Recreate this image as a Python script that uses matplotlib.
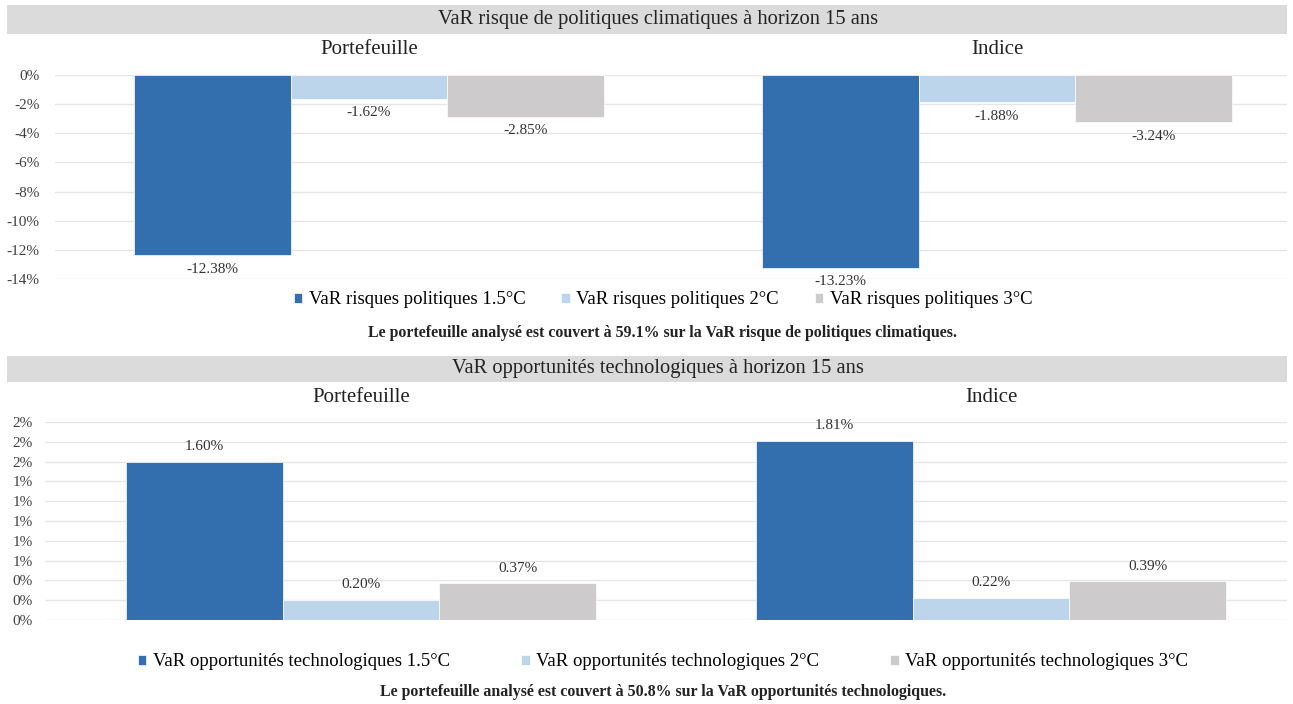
import matplotlib
matplotlib.use("Agg")
import matplotlib.pyplot as plt
from matplotlib.patches import Rectangle
from matplotlib.transforms import blended_transform_factory
import numpy as np

plt.rcParams['font.family'] = ['Liberation Serif', 'DejaVu Serif']

groups = ["Portefeuille", "Indice"]

pol_labels = ["VaR risques politiques 1.5°C", "VaR risques politiques 2°C", "VaR risques politiques 3°C"]
pol_values = [[-12.38, -13.23], [-1.62, -1.88], [-2.85, -3.24]]

tech_labels = ["VaR opportunités technologiques 1.5°C", "VaR opportunités technologiques 2°C",
               "VaR opportunités technologiques 3°C"]
tech_values = [[1.60, 1.81], [0.20, 0.22], [0.37, 0.39]]

title_top = "VaR risque de politiques climatiques à horizon 15 ans"
title_bot = "VaR opportunités technologiques à horizon 15 ans"
note_top = "Le portefeuille analysé est couvert à 59.1% sur la VaR risque de politiques climatiques."
note_bot = "Le portefeuille analysé est couvert à 50.8% sur la VaR opportunités technologiques."

colors = ["#336eaf", "#bdd5ea", "#cdcbcb"]
W, H = 1293, 704
fig = plt.figure(figsize=(W / 100, H / 100), dpi=100)


def fx(px):
    return px / W


def fy(py):
    return 1 - py / H


def band(y0, y1, text):
    fig.patches.append(Rectangle((fx(7), fy(y1)), fx(1287 - 7), (y1 - y0) / H,
                                 transform=fig.transFigure, facecolor="#dcdbdb",
                                 edgecolor="none", zorder=0))
    fig.text(fx(658), fy((y0 + y1) / 2), text, ha="center", va="center",
             fontsize=14.8, color="#222222")


def panel(left, right, ytop, ybot, values, ylim, ticks, fmt, sub_y, centers_px, labels,
          leg_y, colsp, note, note_y, neg, tpad):
    ax = fig.add_axes([fx(left), fy(ybot), fx(right - left), (ybot - ytop) / H])
    c0, c1 = centers_px
    scale = c1 - c0
    ax.set_xlim((left - c0) / scale, (right - c0) / scale)
    ax.set_ylim(*ylim)
    x = np.arange(len(groups))
    bw = 0.249
    handles = []
    for i, vals in enumerate(values):
        xs = x + (i - 1) * bw
        b = ax.bar(xs, vals, width=bw, color=colors[i], edgecolor="white", linewidth=0.5,
                   label=labels[i], zorder=2)
        handles.append(b)
        for xi, v in zip(xs, vals):
            ax.annotate(f"{v:.2f}%", (xi, v), xytext=(0, -10 if neg else 11),
                        textcoords="offset points", ha="center", va="center",
                        fontsize=11, color="#333333", annotation_clip=False)
    ax.set_yticks(ticks)
    ax.set_yticklabels([fmt(t) for t in ticks])
    ax.set_xticks([])
    ax.tick_params(axis="y", length=0, labelsize=11, labelcolor="#404040", pad=tpad)
    for s in ax.spines.values():
        s.set_visible(False)
    ax.grid(axis="y", color="#e6e6e6", linewidth=1, zorder=0)
    ax.set_axisbelow(True)
    ax.patch.set_alpha(0)
    tr = blended_transform_factory(ax.transData, fig.transFigure)
    for xi, g in zip(x, groups):
        ax.text(xi, fy(sub_y), g, transform=tr, ha="center", va="center", fontsize=15,
                color="#222222")
    fig.legend(handles=handles, loc="center", bbox_to_anchor=(fx(663), fy(leg_y)),
               ncol=3, frameon=False, fontsize=13.5, handlelength=0.45, handleheight=0.45,
               handletextpad=0.35, columnspacing=colsp)
    fig.text(fx(663), fy(note_y), note, ha="center", va="center", fontsize=11.4,
             fontweight="bold", color="#222222")
    return ax


band(5, 34, title_top)
band(356, 382, title_bot)

panel(55, 1287, 75, 279, pol_values, (-14, 0), list(range(-14, 1, 2)),
      lambda t: f"{t:d}%", 50, (369, 997), pol_labels, 300, 1.9, note_top, 333, True, 11)

tech_ticks = [round(0.2 * k, 1) for k in range(11)]
panel(45, 1287, 422, 620, tech_values, (0, 2.0), tech_ticks,
      lambda t: f"{t:.0f}%", 397, (361, 991), tech_labels, 662, 3.8, note_bot, 692, False, 9)

fig.savefig("out.png", dpi=100, facecolor="white")
